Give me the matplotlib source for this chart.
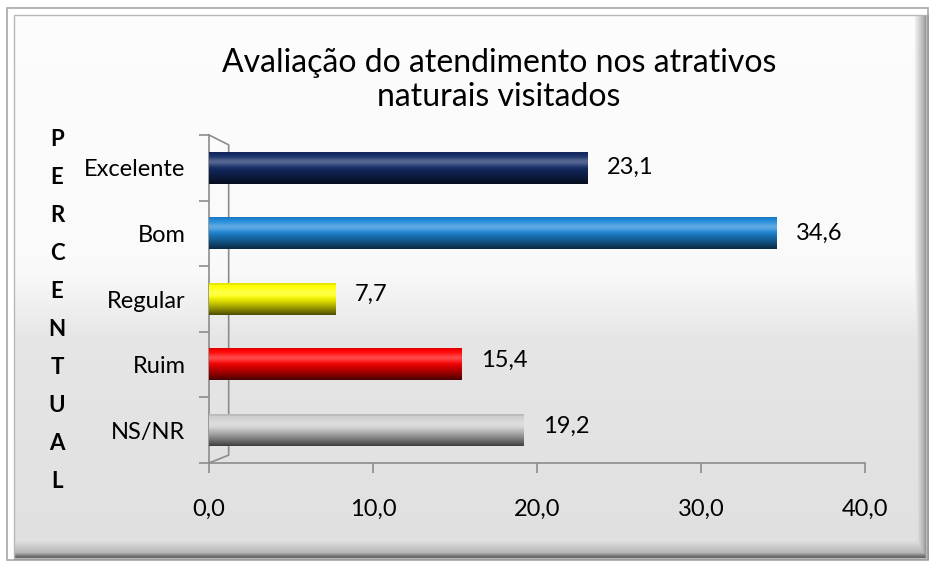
import numpy as np
import matplotlib.pyplot as plt
from matplotlib.patches import Rectangle

# Data
categories = ['Excelente', 'Bom', 'Regular', 'Ruim', 'NS/NR']
values = [23.1, 34.6, 7.7, 15.4, 19.2]
colors = ['#142c66', '#1e88d9', '#ffff00', '#ff0000', '#cfcfcf']
xticks = [0, 10, 20, 30, 40]
title = 'Avaliação do atendimento nos atrativos\nnaturais visitados'
ylabel = 'PERCENTUAL'

plt.rcParams['font.family'] = ['Lato', 'DejaVu Sans']

W, H = 930, 563
fig = plt.figure(figsize=(W / 100, H / 100), dpi=100, facecolor='white')

# background panel (pixel coords)
bg = fig.add_axes([0, 0, 1, 1], zorder=0)
bg.set_xlim(0, W)
bg.set_ylim(H, 0)
bg.axis('off')

ys = np.arange(H)
shade = np.interp(ys, [15, 270, 340, 540, 552, 557], [0.99, 0.98, 0.9, 0.88, 0.72, 0.35])
img = np.repeat(shade[:, None], W, axis=1)
xs = np.arange(W)
right = np.interp(xs, [0, 912, 922, 927], [1, 1, 0.7, 0.4])
img = np.minimum(img, right[None, :])
rgb = np.dstack([img] * 3)
rgb[:15, :] = 1
rgb[:, :14] = 1
rgb[:, 928:] = 1
rgb[560:, :] = 1
bg.imshow(rgb, extent=(0, W, H, 0), aspect='auto', interpolation='bilinear')
bg.add_patch(Rectangle((7, 8), 921, 552, fill=False, ec='#a8a8a8', lw=1.2))
bg.add_patch(Rectangle((14, 15), 912, 543, fill=False, ec='#b8b8b8', lw=1.0))

# main axes
ax = fig.add_axes([209 / W, 1 - 463 / H, (865 - 209) / W, (463 - 135) / H], zorder=1)
ax.patch.set_alpha(0)

ypos = np.arange(len(categories))
bars = ax.barh(ypos, values, height=0.48, color=colors, edgecolor='none', zorder=2)


def cylinder(base, n=64):
    base = np.array(plt.matplotlib.colors.to_rgb(base))
    t = np.linspace(0, 1, n)
    m = 1 - 0.7 * np.clip((t - 0.4) / 0.6, 0, 1) ** 1.2
    col = base[None, :] * m[:, None]
    hl = 0.28 * np.exp(-((t - 0.3) / 0.13) ** 2)
    col = col + (1 - col) * hl[:, None]
    col[t < 0.06] *= 0.9
    return col[:, None, :]


for bar, c in zip(bars, colors):
    x0, y0 = bar.get_x(), bar.get_y()
    x1, y1 = x0 + bar.get_width(), y0 + bar.get_height()
    ax.imshow(cylinder(c), extent=(x0, x1, y1, y0), aspect='auto',
              interpolation='bilinear', zorder=3)

ax.set_xlim(0, 40)
ax.set_ylim(len(categories) - 0.5, -0.5)

# 3D wall outline
ax.plot([0, 1.2, 1.2, 0], [-0.5, -0.35, 4.38, 4.5], color='#8c8c8c', lw=1.2,
        clip_on=False, zorder=1)

for s in ['top', 'right']:
    ax.spines[s].set_visible(False)
for s in ['left', 'bottom']:
    ax.spines[s].set_color('#8c8c8c')
    ax.spines[s].set_linewidth(1.2)

ax.set_yticks(np.arange(-0.5, len(categories), 1))
ax.set_yticklabels([])
ax.set_yticks(ypos, minor=True)
ax.set_yticklabels(categories, minor=True, fontsize=17)
ax.tick_params(axis='y', which='major', length=7, color='#8c8c8c', width=1.2)
ax.tick_params(axis='y', which='minor', length=0, pad=17)

ax.set_xticks(xticks)
ax.set_xticklabels([f'{v:.1f}'.replace('.', ',') for v in xticks], fontsize=17)
ax.tick_params(axis='x', length=7, color='#8c8c8c', width=1.2, pad=19)

for y, v in zip(ypos, values):
    ax.annotate(f'{v:.1f}'.replace('.', ','), (v, y), xytext=(14, 3 if y > 1 else 0),
                textcoords='offset points', va='center', ha='left', fontsize=17)

fig.text(499 / W, 1 - 80 / H, title, ha='center', va='center', fontsize=23,
         linespacing=1.18)

for i, ch in enumerate(ylabel):
    fig.text(57 / W, 1 - (140 + i * 38.0) / H, ch, ha='center', va='center',
             fontsize=16, fontweight='bold')

fig.savefig('out.png', dpi=100, facecolor='white')
